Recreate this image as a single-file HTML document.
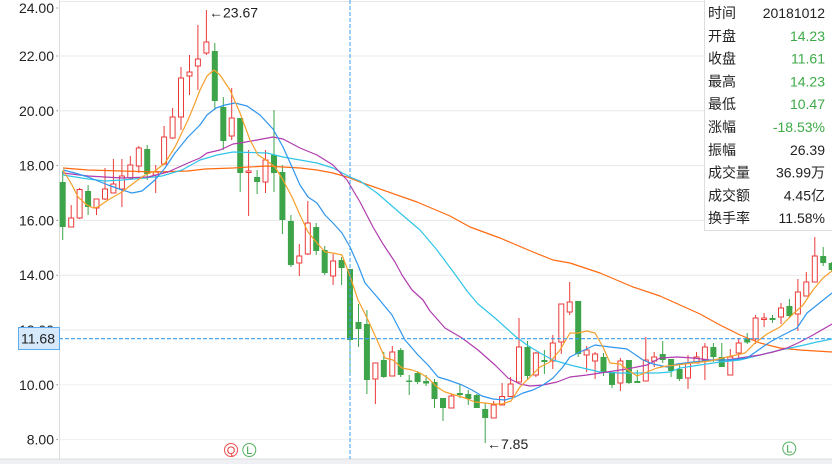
<!DOCTYPE html>
<html><head><meta charset="utf-8"><style>
html,body{margin:0;padding:0;background:#fff;}
svg{display:block;}
.g line{stroke:#3da44a;stroke-width:1}
.g rect{fill:#3da44a}
.r line{stroke:#eb3a3a;stroke-width:1}
.r rect{fill:#fff;stroke:#eb3a3a;stroke-width:1}
.ma{fill:none;stroke-width:1.2;stroke-linejoin:round}
.ax{font-family:"Liberation Sans",sans-serif;font-size:14px;fill:#222;text-anchor:end}
.tl{font-family:"Liberation Sans","Noto Sans CJK SC",sans-serif;font-size:14px;fill:#222}
.tv{font-family:"Liberation Sans","Noto Sans CJK SC",sans-serif;font-size:14px;fill:#222;text-anchor:end}
.gr{fill:#3daa47}
</style></head><body>
<svg width="832" height="464" viewBox="0 0 832 464" xmlns="http://www.w3.org/2000/svg">
<rect x="0" y="0" width="832" height="464" fill="#fff"/>
<!-- grid -->
<g stroke="#e8e8e8" stroke-width="1">
<line x1="59" y1="1.5" x2="832" y2="1.5"/>
<line x1="59" y1="56" x2="832" y2="56"/>
<line x1="59" y1="110.8" x2="832" y2="110.8"/>
<line x1="59" y1="165.6" x2="832" y2="165.6"/>
<line x1="59" y1="220.4" x2="832" y2="220.4"/>
<line x1="59" y1="275.2" x2="832" y2="275.2"/>
<line x1="59" y1="330" x2="832" y2="330"/>
<line x1="59" y1="384.8" x2="832" y2="384.8" stroke="#f0f0f0"/>
<line x1="59" y1="439.6" x2="832" y2="439.6" stroke="#f0f0f0"/>
</g>
<line x1="59.5" y1="0" x2="59.5" y2="459" stroke="#dcdcdc"/>
<g stroke="#888" stroke-width="1">
<line x1="56.5" y1="8" x2="58" y2="8"/>
<line x1="56.5" y1="56" x2="58" y2="56"/>
<line x1="56.5" y1="110.8" x2="58" y2="110.8"/>
<line x1="56.5" y1="165.6" x2="58" y2="165.6"/>
<line x1="56.5" y1="220.4" x2="58" y2="220.4"/>
<line x1="56.5" y1="275.2" x2="58" y2="275.2"/>
<line x1="56.5" y1="384.8" x2="58" y2="384.8"/>
<line x1="56.5" y1="439.6" x2="58" y2="439.6"/>
</g>
<rect x="0" y="459" width="832" height="5" fill="#eef0f4"/>
<line x1="0" y1="459" x2="832" y2="459" stroke="#dcdcdc"/>
<!-- axis labels -->
<text class="ax" x="54" y="13">24.00</text>
<text class="ax" x="54" y="61">22.00</text>
<text class="ax" x="54" y="115.8">20.00</text>
<text class="ax" x="54" y="170.6">18.00</text>
<text class="ax" x="54" y="225.4">16.00</text>
<text class="ax" x="54" y="280.2">14.00</text>
<text class="ax" x="54" y="335">12.00</text>
<text class="ax" x="54" y="389.8">10.00</text>
<text class="ax" x="54" y="444.6">8.00</text>

<!-- candles -->
<g class="g"><line x1="62.7" y1="171" x2="62.7" y2="240"/><rect x="59.7" y="182" width="6" height="45"/></g>
<g class="r"><line x1="71.2" y1="205" x2="71.2" y2="227"/><rect x="68.7" y="218" width="5" height="9"/></g>
<g class="r"><line x1="79.6" y1="188" x2="79.6" y2="219"/><rect x="77.1" y="189.5" width="5" height="28.5"/></g>
<g class="g"><line x1="88.1" y1="185" x2="88.1" y2="215"/><rect x="85.1" y="191" width="6" height="16"/></g>
<g class="r"><line x1="96.5" y1="199" x2="96.5" y2="215"/><rect x="94" y="199" width="5" height="9"/></g>
<g class="r"><line x1="105" y1="168" x2="105" y2="200"/><rect x="102.5" y="189" width="5" height="10"/></g>
<g class="r"><line x1="113.4" y1="159" x2="113.4" y2="193"/><rect x="110.9" y="184" width="5" height="9"/></g>
<g class="r"><line x1="121.9" y1="159" x2="121.9" y2="207"/><rect x="119.4" y="176" width="5" height="13"/></g>
<g class="r"><line x1="130.3" y1="156" x2="130.3" y2="180"/><rect x="127.8" y="165" width="5" height="13"/></g>
<g class="r"><line x1="138.8" y1="146" x2="138.8" y2="173"/><rect x="136.3" y="148" width="5" height="18"/></g>
<g class="g"><line x1="147.2" y1="145" x2="147.2" y2="180"/><rect x="144.2" y="149" width="6" height="25"/></g>
<g class="r"><line x1="155.7" y1="165" x2="155.7" y2="193"/><rect x="153.2" y="171.5" width="5" height="3.5"/></g>
<g class="r"><line x1="164.1" y1="126" x2="164.1" y2="165"/><rect x="161.6" y="137" width="5" height="27"/></g>
<g class="r"><line x1="172.6" y1="108" x2="172.6" y2="139"/><rect x="170.1" y="117" width="5" height="21"/></g>
<g class="r"><line x1="181" y1="67" x2="181" y2="130"/><rect x="178.5" y="78" width="5" height="39"/></g>
<g class="r"><line x1="189.5" y1="55" x2="189.5" y2="95"/><rect x="187" y="72" width="5" height="4"/></g>
<g class="r"><line x1="197.9" y1="25" x2="197.9" y2="90"/><rect x="195.4" y="59" width="5" height="7"/></g>
<g class="r"><line x1="206.4" y1="10" x2="206.4" y2="55"/><rect x="203.9" y="42" width="5" height="11"/></g>
<g class="g"><line x1="214.8" y1="43" x2="214.8" y2="110"/><rect x="211.8" y="51" width="6" height="50"/></g>
<g class="g"><line x1="223.3" y1="97" x2="223.3" y2="150"/><rect x="220.3" y="107" width="6" height="34"/></g>
<g class="r"><line x1="231.7" y1="88" x2="231.7" y2="140"/><rect x="229.2" y="118" width="5" height="18"/></g>
<g class="g"><line x1="240.2" y1="118" x2="240.2" y2="192"/><rect x="237.2" y="118" width="6" height="55"/></g>
<g class="r"><line x1="248.6" y1="150" x2="248.6" y2="216"/><rect x="246.1" y="171" width="5" height="1.5"/></g>
<g class="g"><line x1="257.1" y1="170" x2="257.1" y2="194"/><rect x="254.1" y="177" width="6" height="5"/></g>
<g class="r"><line x1="265.5" y1="150" x2="265.5" y2="193"/><rect x="263" y="160" width="5" height="22"/></g>
<g class="g"><line x1="274" y1="110" x2="274" y2="192"/><rect x="271" y="155" width="6" height="18"/></g>
<g class="g"><line x1="282.4" y1="165" x2="282.4" y2="234"/><rect x="279.4" y="172" width="6" height="48"/></g>
<g class="g"><line x1="290.9" y1="215" x2="290.9" y2="267"/><rect x="287.9" y="221" width="6" height="44"/></g>
<g class="r"><line x1="299.3" y1="244" x2="299.3" y2="276"/><rect x="296.8" y="256" width="5" height="7"/></g>
<g class="r"><line x1="307.8" y1="201" x2="307.8" y2="255"/><rect x="305.3" y="223" width="5" height="31"/></g>
<g class="g"><line x1="316.2" y1="223" x2="316.2" y2="255"/><rect x="313.2" y="227" width="6" height="24"/></g>
<g class="g"><line x1="324.7" y1="246" x2="324.7" y2="275"/><rect x="321.7" y="250" width="6" height="23"/></g>
<g class="r"><line x1="333.1" y1="254" x2="333.1" y2="285"/><rect x="330.6" y="261" width="5" height="15"/></g>
<g class="g"><line x1="341.6" y1="257" x2="341.6" y2="285"/><rect x="338.6" y="260" width="6" height="8"/></g>
<g class="g"><line x1="350" y1="269" x2="350" y2="372.5"/><rect x="347" y="269" width="6" height="71"/></g>
<g class="g"><line x1="358.5" y1="304" x2="358.5" y2="347"/><rect x="355.5" y="322" width="6" height="7"/></g>
<g class="g"><line x1="366.9" y1="310" x2="366.9" y2="394"/><rect x="363.9" y="324" width="6" height="56"/></g>
<g class="r"><line x1="375.4" y1="363" x2="375.4" y2="404"/><rect x="372.9" y="363" width="5" height="16"/></g>
<g class="g"><line x1="383.8" y1="352" x2="383.8" y2="378"/><rect x="380.8" y="360" width="6" height="17"/></g>
<g class="r"><line x1="392.3" y1="346" x2="392.3" y2="376"/><rect x="389.8" y="352" width="5" height="24"/></g>
<g class="g"><line x1="400.7" y1="348" x2="400.7" y2="377"/><rect x="397.7" y="350" width="6" height="25"/></g>
<g class="g"><line x1="409.2" y1="375" x2="409.2" y2="395"/><rect x="406.2" y="380.5" width="6" height="1.5"/></g>
<g class="g"><line x1="417.6" y1="371" x2="417.6" y2="384"/><rect x="414.6" y="373" width="6" height="9"/></g>
<g class="g"><line x1="426.1" y1="375" x2="426.1" y2="386"/><rect x="423.1" y="381" width="6" height="2.5"/></g>
<g class="g"><line x1="434.5" y1="379" x2="434.5" y2="408"/><rect x="431.5" y="382" width="6" height="17"/></g>
<g class="g"><line x1="443" y1="398" x2="443" y2="421"/><rect x="440" y="398" width="6" height="10"/></g>
<g class="r"><line x1="451.4" y1="394" x2="451.4" y2="408"/><rect x="448.9" y="396" width="5" height="12"/></g>
<g class="g"><line x1="459.9" y1="385" x2="459.9" y2="398"/><rect x="456.9" y="393" width="6" height="2"/></g>
<g class="g"><line x1="468.3" y1="390" x2="468.3" y2="405"/><rect x="465.3" y="394" width="6" height="5"/></g>
<g class="g"><line x1="476.8" y1="394" x2="476.8" y2="408"/><rect x="473.8" y="395" width="6" height="13"/></g>
<g class="g"><line x1="485.2" y1="403" x2="485.2" y2="443"/><rect x="482.2" y="409" width="6" height="9"/></g>
<g class="r"><line x1="493.7" y1="401" x2="493.7" y2="418"/><rect x="491.2" y="405" width="5" height="13"/></g>
<g class="r"><line x1="502.1" y1="383" x2="502.1" y2="405"/><rect x="499.6" y="396.5" width="5" height="8.5"/></g>
<g class="r"><line x1="510.6" y1="377" x2="510.6" y2="397"/><rect x="508.1" y="384" width="5" height="12.5"/></g>
<g class="r"><line x1="519" y1="318" x2="519" y2="382"/><rect x="516.5" y="347" width="5" height="35"/></g>
<g class="g"><line x1="527.5" y1="341" x2="527.5" y2="379"/><rect x="524.5" y="347" width="6" height="29"/></g>
<g class="r"><line x1="535.9" y1="352" x2="535.9" y2="377"/><rect x="533.4" y="353" width="5" height="22"/></g>
<g class="g"><line x1="544.4" y1="350" x2="544.4" y2="374"/><rect x="541.4" y="360" width="6" height="2"/></g>
<g class="r"><line x1="552.8" y1="335" x2="552.8" y2="369"/><rect x="550.3" y="343" width="5" height="18"/></g>
<g class="r"><line x1="561.3" y1="304" x2="561.3" y2="354"/><rect x="558.8" y="304" width="5" height="38"/></g>
<g class="r"><line x1="569.7" y1="282" x2="569.7" y2="315"/><rect x="567.2" y="302" width="5" height="10"/></g>
<g class="g"><line x1="578.2" y1="301" x2="578.2" y2="357"/><rect x="575.2" y="301" width="6" height="53"/></g>
<g class="r"><line x1="586.6" y1="346" x2="586.6" y2="372"/><rect x="584.1" y="350" width="5" height="5"/></g>
<g class="r"><line x1="595.1" y1="352" x2="595.1" y2="379"/><rect x="592.6" y="354" width="5" height="7"/></g>
<g class="g"><line x1="603.5" y1="353" x2="603.5" y2="376"/><rect x="600.5" y="357" width="6" height="15"/></g>
<g class="g"><line x1="612" y1="372" x2="612" y2="388"/><rect x="609" y="372" width="6" height="13"/></g>
<g class="r"><line x1="620.4" y1="358" x2="620.4" y2="391"/><rect x="617.9" y="361" width="5" height="22"/></g>
<g class="g"><line x1="628.9" y1="360" x2="628.9" y2="384"/><rect x="625.9" y="360" width="6" height="23"/></g>
<g class="g"><line x1="637.3" y1="370" x2="637.3" y2="383"/><rect x="634.3" y="381" width="6" height="2"/></g>
<g class="r"><line x1="645.8" y1="337" x2="645.8" y2="381"/><rect x="643.3" y="360" width="5" height="21"/></g>
<g class="r"><line x1="654.2" y1="352" x2="654.2" y2="367"/><rect x="651.7" y="357" width="5" height="4"/></g>
<g class="g"><line x1="662.7" y1="341" x2="662.7" y2="363"/><rect x="659.7" y="354" width="6" height="6"/></g>
<g class="g"><line x1="671.1" y1="359" x2="671.1" y2="377"/><rect x="668.1" y="359" width="6" height="12"/></g>
<g class="g"><line x1="679.6" y1="365" x2="679.6" y2="381"/><rect x="676.6" y="369" width="6" height="10"/></g>
<g class="r"><line x1="688" y1="355" x2="688" y2="389"/><rect x="685.5" y="363" width="5" height="15"/></g>
<g class="r"><line x1="696.5" y1="352" x2="696.5" y2="363"/><rect x="694" y="357" width="5" height="6"/></g>
<g class="r"><line x1="704.9" y1="343" x2="704.9" y2="380"/><rect x="702.4" y="347" width="5" height="13"/></g>
<g class="g"><line x1="713.4" y1="343" x2="713.4" y2="362"/><rect x="710.4" y="347" width="6" height="10"/></g>
<g class="g"><line x1="721.8" y1="343" x2="721.8" y2="367"/><rect x="718.8" y="357" width="6" height="10"/></g>
<g class="r"><line x1="730.3" y1="349" x2="730.3" y2="375"/><rect x="727.8" y="357" width="5" height="18"/></g>
<g class="r"><line x1="738.7" y1="338" x2="738.7" y2="358"/><rect x="736.2" y="343" width="5" height="10"/></g>
<g class="g"><line x1="747.2" y1="333" x2="747.2" y2="344"/><rect x="744.2" y="339" width="6" height="3.5"/></g>
<g class="r"><line x1="755.6" y1="315" x2="755.6" y2="344"/><rect x="753.1" y="318" width="5" height="21"/></g>
<g class="r"><line x1="764.1" y1="313" x2="764.1" y2="327"/><rect x="761.6" y="318" width="5" height="1.5"/></g>
<g class="g"><line x1="772.5" y1="315" x2="772.5" y2="323"/><rect x="769.5" y="318" width="6" height="2"/></g>
<g class="r"><line x1="781" y1="303" x2="781" y2="324"/><rect x="778.5" y="308" width="5" height="9"/></g>
<g class="g"><line x1="789.4" y1="299" x2="789.4" y2="318"/><rect x="786.4" y="306" width="6" height="10"/></g>
<g class="r"><line x1="797.9" y1="279" x2="797.9" y2="331"/><rect x="795.4" y="292" width="5" height="22"/></g>
<g class="r"><line x1="806.3" y1="272" x2="806.3" y2="296"/><rect x="803.8" y="282" width="5" height="14"/></g>
<g class="r"><line x1="814.8" y1="237" x2="814.8" y2="282"/><rect x="812.3" y="256" width="5" height="26"/></g>
<g class="g"><line x1="823.2" y1="247" x2="823.2" y2="266"/><rect x="820.2" y="256" width="6" height="7"/></g>
<g class="g"><line x1="831.7" y1="262" x2="831.7" y2="272"/><rect x="828.7" y="263" width="6" height="7"/></g>

<!-- MA60 -->
<polyline class="ma" stroke="#ff6a10" points="63,168 88,170 122,171 155,172 188,171 205,169 233,168 267,166 283,167 300,168 317,170 333,173 347,177 360,182 417,202 450,216 470,227 500,238 533,252 553,260 570,263 600,273 633,287 660,296 680,305 700,314 720,325 740,335 760,343 780,348 800,350 832,352"/>
<!-- MA30 cyan -->
<polyline class="ma" stroke="#30c5e8" points="63,175 88,179 105,181 122,180 145,178 162,176 182,170 200,160 217,155 233,152 267,153 283,157 300,160 317,163 333,168 350,177 360,181 377,193 400,213 420,230 437,250 457,277 467,291 478,304 495,318 515,336 527,345 540,353 553,360 570,365 587,369 600,372 620,373 640,373 657,373 670,372 680,368 700,365 720,362 740,360 760,355 780,350 800,346 817,342 832,339"/>
<!-- MA20 purple -->
<polyline class="ma" stroke="#b03cae" points="63,173 88,176 122,178 148,177 168,172 188,163 200,158 207,153 220,150 233,144 240,143 257,140 273,137 283,139 300,148 317,155 333,165 347,180 360,202 373,227 383,244 395,262 402,275 412,290 423,300 430,311 445,328 462,338 478,350 495,365 508,378 520,384 530,386 543,385 557,382 570,377 587,375 607,372 627,369 647,365 660,358 677,357 693,358 710,360 727,360 740,358 760,355 773,352 787,348 800,342 813,335 832,324"/>
<!-- MA10 blue -->
<polyline class="ma" stroke="#2f96ee" points="63,170 75,173 88,177 108,185 122,190 132,193 142,191 155,180 165,168 175,153 188,137 200,125 207,115 216,108 225,105 235,103 247,106 260,115 273,129 283,147 292,167 300,185 308,197 317,203 325,215 333,223 342,233 350,247 358,265 365,283 378,298 392,315 405,340 418,355 428,365 438,377 448,380 462,385 472,390 482,396 493,399 505,400 515,397 523,393 533,390 543,385 553,378 562,368 570,357 580,352 595,345 610,347 627,349 643,360 653,364 667,367 677,364 693,362 713,360 730,360 747,358 757,351 770,342 783,335 797,328 807,313 817,305 832,293"/>
<!-- MA5 orange -->
<polyline class="ma" stroke="#f5a02a" points="63,170 72,185 78,197 87,205 93,208 98,207 108,200 122,192 135,182 145,175 155,171 165,163 175,147 188,120 195,103 200,90 207,76 214,70 220,75 230,90 240,113 250,140 258,155 266,160 275,167 283,180 292,197 300,215 308,232 317,243 325,252 333,253 342,255 350,276 358,300 368,320 377,340 385,358 393,360 402,368 412,370 420,373 428,378 437,387 445,392 455,395 465,398 475,402 485,403 493,404 502,404 511,401 520,387 530,377 540,367 550,362 560,350 570,333 578,333 587,331 595,333 603,347 610,363 620,364 628,370 637,376 647,372 657,368 667,366 677,365 693,363 710,361 727,357 745,353 755,343 767,334 780,327 793,314 803,305 813,290 823,278 832,271"/>

<!-- crosshair -->
<line x1="350" y1="0" x2="350" y2="459" stroke="#3b9cf0" stroke-width="1" stroke-dasharray="4 2"/>
<line x1="59" y1="338.7" x2="832" y2="338.7" stroke="#3b9cf0" stroke-width="1.2" stroke-dasharray="4 2"/>
<rect x="18.5" y="327.5" width="41" height="22" fill="#d6e9fb" stroke="#5aaaf0" stroke-width="1"/>
<text class="ax" x="55" y="343.5">11.68</text>

<!-- annotations -->
<text x="209" y="17.3" font-family="Liberation Sans, DejaVu Sans, sans-serif" font-size="14" fill="#222">←23.67</text>
<text x="487" y="449" font-family="Liberation Sans, DejaVu Sans, sans-serif" font-size="14" fill="#222">←7.85</text>

<!-- markers -->
<circle cx="231" cy="450" r="6.5" fill="#fff" stroke="#f05050" stroke-width="1"/>
<text x="231" y="454" font-family="Liberation Sans, sans-serif" font-size="11" fill="#e83a3a" text-anchor="middle">Q</text>
<circle cx="249.3" cy="450" r="6.5" fill="#fff" stroke="#55b060" stroke-width="1"/>
<text x="249.3" y="454" font-family="Liberation Sans, sans-serif" font-size="11" fill="#3da44a" text-anchor="middle">L</text>
<circle cx="789.3" cy="448.5" r="6.5" fill="#fff" stroke="#55b060" stroke-width="1"/>
<text x="789.3" y="452.5" font-family="Liberation Sans, sans-serif" font-size="11" fill="#3da44a" text-anchor="middle">L</text>

<!-- tooltip -->
<rect x="704.5" y="-1" width="130" height="231.5" fill="#fff" stroke="#dddddd" stroke-width="1"/>
<text class="tl" x="708" y="18">时间</text><text class="tv" x="825" y="18">20181012</text>
<text class="tl" x="708" y="40.8">开盘</text><text class="tv gr" x="825" y="40.8">14.23</text>
<text class="tl" x="708" y="63.6">收盘</text><text class="tv gr" x="825" y="63.6">11.61</text>
<text class="tl" x="708" y="86.4">最高</text><text class="tv gr" x="825" y="86.4">14.23</text>
<text class="tl" x="708" y="109.2">最低</text><text class="tv gr" x="825" y="109.2">10.47</text>
<text class="tl" x="708" y="132">涨幅</text><text class="tv gr" x="825" y="132">-18.53%</text>
<text class="tl" x="708" y="154.8">振幅</text><text class="tv" x="825" y="154.8">26.39</text>
<text class="tl" x="708" y="177.6">成交量</text><text class="tv" x="825" y="177.6">36.99万</text>
<text class="tl" x="708" y="200.4">成交额</text><text class="tv" x="825" y="200.4">4.45亿</text>
<text class="tl" x="708" y="223.2">换手率</text><text class="tv" x="825" y="223.2">11.58%</text>
</svg>
</body></html>
